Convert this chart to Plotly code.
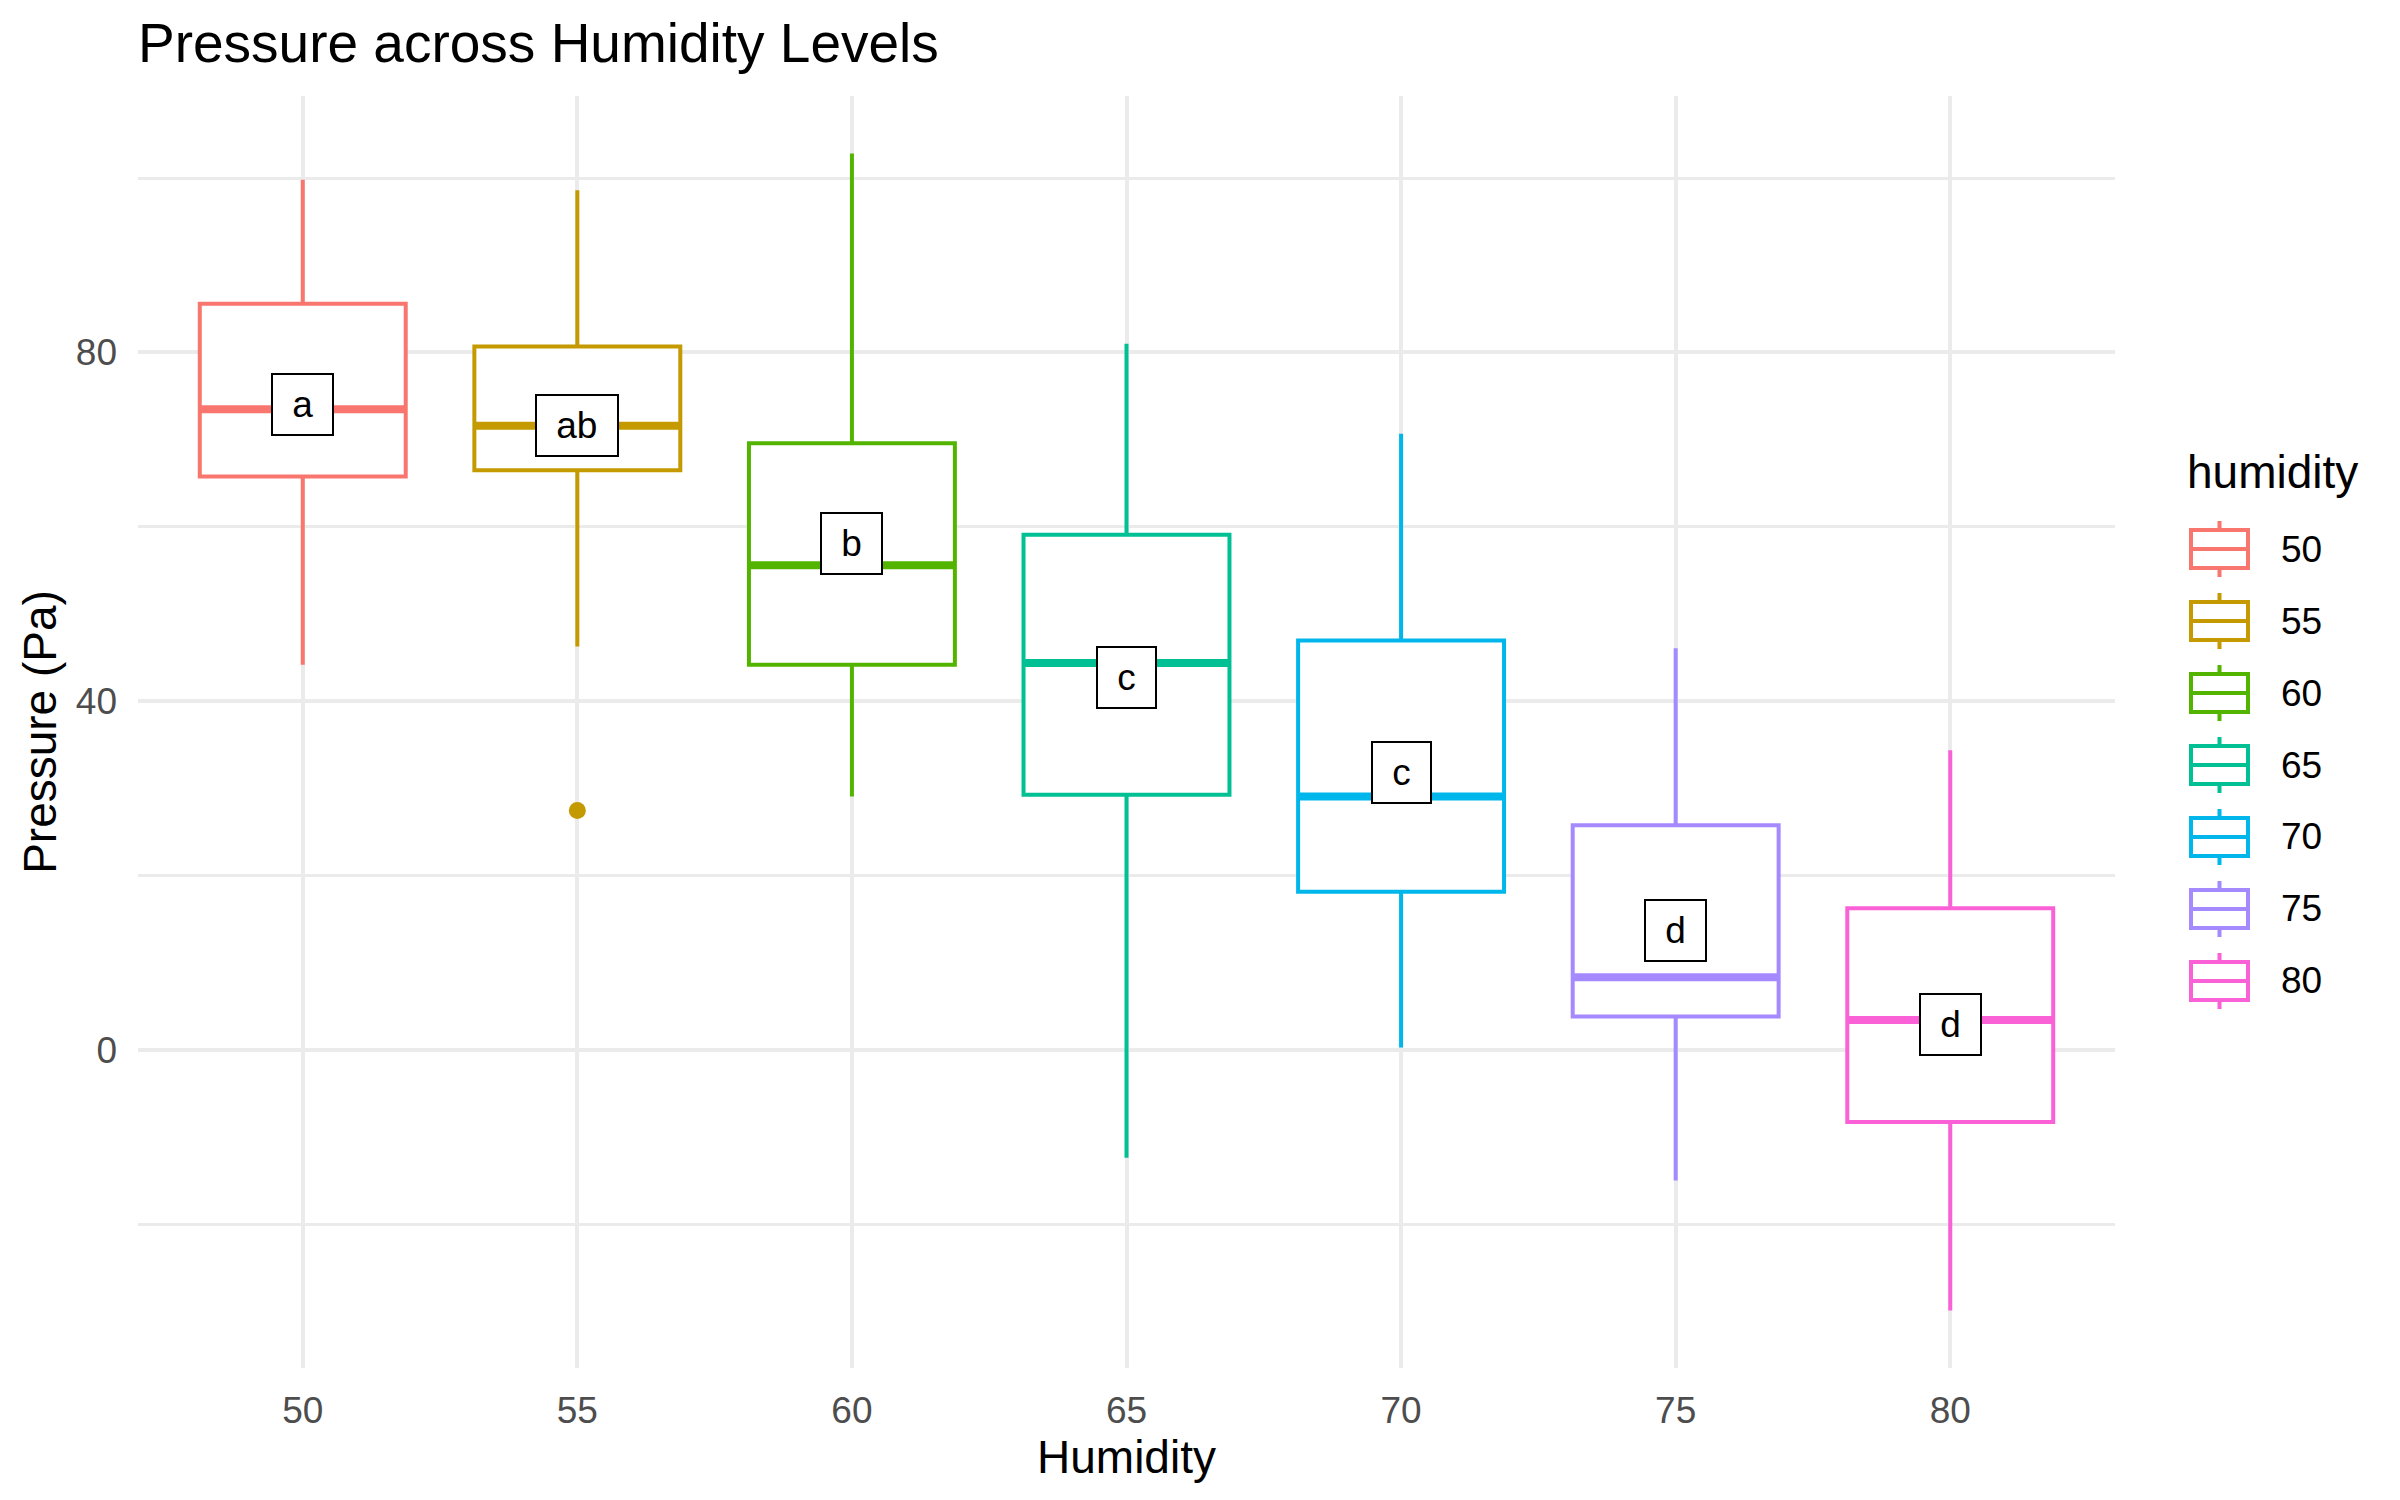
import plotly.graph_objects as go

humidity = ["50", "55", "60", "65", "70", "75", "80"]
colors = ["#F8766D", "#C49A00", "#53B400", "#00C094", "#00B6EB", "#A58AFF", "#FB61D7"]
upper = [99.8, 98.6, 102.8, 81.0, 70.7, 46.1, 34.4]
q3 = [85.6, 80.7, 69.6, 59.1, 47.0, 25.8, 16.3]
median = [73.5, 71.6, 55.6, 44.4, 29.1, 8.4, 3.5]
q1 = [65.8, 66.5, 44.2, 29.3, 18.2, 3.9, -8.2]
lower = [44.2, 46.3, 29.1, -12.3, 0.35, -14.9, -29.8]
outlier_group = ["55"]
outlier_value = [27.5]
letters = ["a", "ab", "b", "c", "c", "d", "d"]
label_y = [74.0, 71.6, 58.1, 42.8, 31.9, 13.7, 3.0]

FONT = "Liberation Sans, Arial, sans-serif"
BOXW = 0.75
W, H = 2400, 1500
ML, MR, MT, MB = 138, 285, 96, 132
PW, PH = W - ML - MR, H - MT - MB


def px_x(px):
    return (px - ML) / PW


def px_y(py):
    return (H - MB - py) / PH


fig = go.Figure()
for i, h in enumerate(humidity):
    fig.add_trace(go.Box(
        x=[i], q1=[q1[i]], median=[median[i]], q3=[q3[i]],
        lowerfence=[lower[i]], upperfence=[upper[i]],
        name=h, width=BOXW, whiskerwidth=0,
        line=dict(color=colors[i], width=4), fillcolor="white",
        boxpoints=False, hoverinfo="skip", showlegend=False,
    ))
for i, h in enumerate(humidity):
    fig.add_trace(go.Scatter(
        x=[i - BOXW / 2, i + BOXW / 2], y=[median[i], median[i]],
        mode="lines", line=dict(color=colors[i], width=8),
        showlegend=False, hoverinfo="skip",
    ))
for g, v in zip(outlier_group, outlier_value):
    idx = humidity.index(g)
    fig.add_trace(go.Scatter(
        x=[idx], y=[v], mode="markers",
        marker=dict(color=colors[idx], size=17),
        showlegend=False, hoverinfo="skip",
    ))

for i, (lab, ly) in enumerate(zip(letters, label_y)):
    fig.add_annotation(
        x=i, y=ly, text="\u00a0" + lab + "\u00a0", showarrow=False,
        font=dict(family=FONT, size=37, color="black"),
        bgcolor="white", bordercolor="black", borderwidth=2, borderpad=9,
    )

# legend (drawn as keys like ggplot's boxplot glyphs)
KEY_L, KEY_R = 2191, 2248
KEY_MID = (KEY_L + KEY_R) / 2
ROW0, ROW_STEP = 549, 72
fig.add_annotation(
    xref="paper", yref="paper", x=px_x(2185), y=px_y(472), xanchor="left", yanchor="middle",
    text="humidity", showarrow=False, font=dict(family=FONT, size=46, color="black"),
)
for k, h in enumerate(humidity):
    cy = ROW0 + k * ROW_STEP
    col = colors[k]
    ln = dict(color=col, width=4)
    fig.add_shape(type="line", xref="paper", yref="paper",
                  x0=px_x(KEY_MID), x1=px_x(KEY_MID), y0=px_y(cy - 28), y1=px_y(cy + 28), line=ln)
    fig.add_shape(type="rect", xref="paper", yref="paper",
                  x0=px_x(KEY_L), x1=px_x(KEY_R), y0=px_y(cy - 19), y1=px_y(cy + 19),
                  line=ln, fillcolor="white")
    fig.add_shape(type="line", xref="paper", yref="paper",
                  x0=px_x(KEY_L), x1=px_x(KEY_R), y0=px_y(cy), y1=px_y(cy), line=ln)
    fig.add_annotation(
        xref="paper", yref="paper", x=px_x(2279), y=px_y(cy), xanchor="left", yanchor="middle",
        text=h, showarrow=False, font=dict(family=FONT, size=37, color="black"),
    )

fig.update_layout(
    width=W, height=H,
    margin=dict(l=ML, r=MR, t=MT, b=MB),
    paper_bgcolor="white", plot_bgcolor="white",
    font=dict(family=FONT, color="black"),
    title=dict(text="Pressure across Humidity Levels", x=138 / W, xanchor="left",
               xref="container", y=1 - 43 / H, yanchor="middle", yref="container",
               font=dict(size=55, color="black", family=FONT)),
    boxmode="overlay",
    showlegend=False,
)
fig.update_xaxes(
    range=[-0.6, 6.6], tickvals=list(range(len(humidity))), ticktext=humidity,
    showgrid=True, gridcolor="#EBEBEB", gridwidth=4, zeroline=False, showline=False,
    ticks="", ticklabelstandoff=17,
    tickfont=dict(size=37, color="#4D4D4D", family=FONT),
    title=dict(text="Humidity", font=dict(size=46, color="black", family=FONT), standoff=5),
)
fig.update_yaxes(
    range=[-36.4, 109.4], tickvals=[0, 40, 80],
    showgrid=True, gridcolor="#EBEBEB", gridwidth=4, zeroline=False, showline=False,
    minor=dict(tickvals=[-20, 20, 60, 100], showgrid=True, gridcolor="#EBEBEB", gridwidth=2.5, ticks=""),
    ticks="", ticklabelstandoff=20,
    tickfont=dict(size=37, color="#4D4D4D", family=FONT),
    title=dict(text="Pressure (Pa)", font=dict(size=46, color="black", family=FONT), standoff=4),
)

fig.write_html("out.html")
